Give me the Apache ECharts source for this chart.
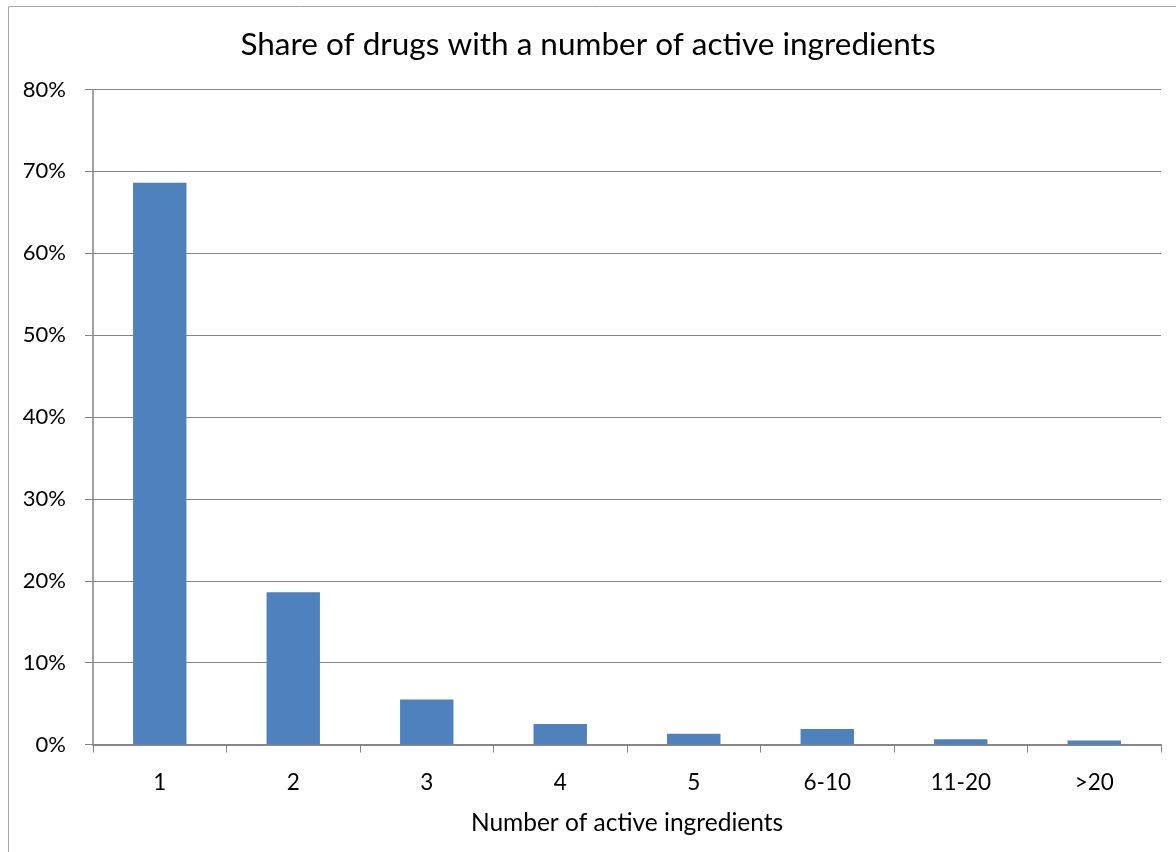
<!DOCTYPE html>
<html>
<head>
<meta charset="utf-8">
<script src="https://cdn.jsdelivr.net/npm/echarts@6/dist/echarts.min.js"></script>
<style>
  html, body { margin: 0; padding: 0; background: #fff; }
  #chart { width: 1176px; height: 852px; }
</style>
</head>
<body>
<div id="chart"></div>
<script>
// Share of drugs by number of active ingredients (percent)
const categories = ['1', '2', '3', '4', '5', '6-10', '11-20', '>20'];
const shares = [68.6, 18.6, 5.5, 2.5, 1.3, 1.9, 0.65, 0.5];
const yTicks = [0, 10, 20, 30, 40, 50, 60, 70, 80];

const FONT = 'Lato, "Open Sans", sans-serif';
const GRAY = '#868686';

const chart = echarts.init(document.getElementById('chart'));
chart.setOption({
  animation: false,
  textStyle: { fontFamily: FONT },
  graphic: [{
    type: 'rect',
    shape: { x: 8.5, y: 6.5, width: 1300, height: 1000 },
    style: { fill: 'none', stroke: '#a6a6a6', lineWidth: 1 },
    z: -10
  }],
  title: {
    text: 'Share of drugs with a number of active ingredients',
    left: 'center',
    top: 24,
    textStyle: { fontFamily: FONT, fontSize: 31.5, fontWeight: 'normal', color: '#000' }
  },
  grid: { left: 93, right: 15, top: 89.5, bottom: 107.5, containLabel: false },
  xAxis: {
    type: 'category',
    data: categories,
    name: 'Number of active ingredients',
    nameLocation: 'middle',
    nameGap: 66,
    nameTextStyle: { fontFamily: FONT, fontSize: 24.5, color: '#000' },
    axisLine: { lineStyle: { color: GRAY, width: 2 } },
    axisTick: { show: true, length: 8, inside: false, lineStyle: { color: GRAY } },
    axisLabel: { fontFamily: FONT, fontSize: 22.5, color: '#000', margin: 27 }
  },
  yAxis: {
    type: 'value',
    min: yTicks[0],
    max: yTicks[yTicks.length - 1],
    interval: 10,
    axisLine: { show: true, lineStyle: { color: GRAY, width: 1.5 } },
    axisTick: { show: true, length: 8, lineStyle: { color: GRAY } },
    axisLabel: { fontFamily: FONT, fontSize: 22, color: '#000', margin: 27, formatter: v => v + '%' },
    splitLine: { lineStyle: { color: GRAY, width: 1 } }
  },
  series: [{
    type: 'bar',
    data: shares,
    barCategoryGap: '60%',
    itemStyle: { color: '#4F81BD' }
  }]
});
</script>
</body>
</html>
